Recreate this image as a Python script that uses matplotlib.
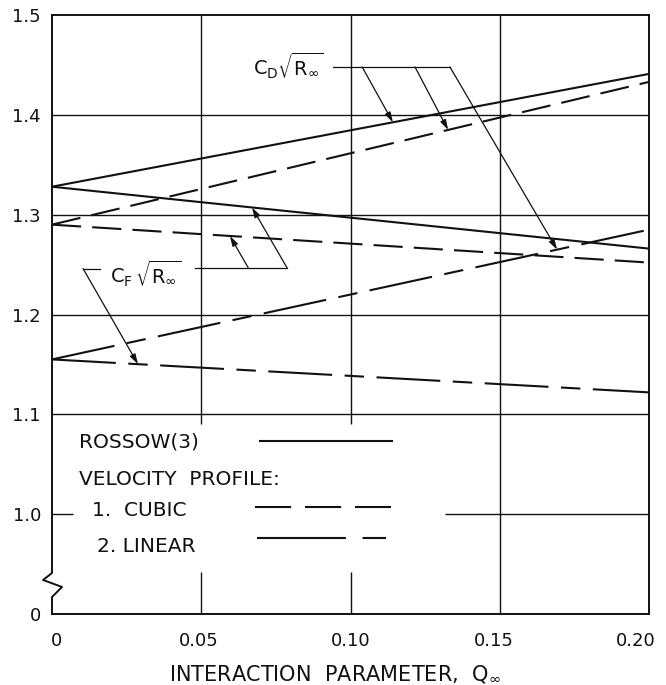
import numpy as np
import matplotlib
matplotlib.use('Agg')
import matplotlib.pyplot as plt
import matplotlib.transforms as mtransforms

plt.rcParams['font.family'] = ['DejaVu Sans']
plt.rcParams['mathtext.default'] = 'regular'
plt.rcParams['lines.scale_dashes'] = False

# ---- data ----
Q = [0.0, 0.20]
rossow_cd = [1.328, 1.441]
rossow_cf = [1.328, 1.266]
cubic_cd = [1.290, 1.433]
cubic_cf = [1.290, 1.252]
linear_cd = [1.155, 1.285]
linear_cf = [1.155, 1.122]

x_ticks = [0.0, 0.05, 0.10, 0.15, 0.20]
x_ticklabels = ['0', '0.05', '0.10', '0.15', '0.20']
y_ticks = [0.90, 1.0, 1.1, 1.2, 1.3, 1.4, 1.5]
y_ticklabels = ['0', '1.0', '1.1', '1.2', '1.3', '1.4', '1.5']

legend_labels = ['ROSSOW(3)', 'VELOCITY  PROFILE:', '1.  CUBIC', '2. LINEAR']
xlabel = 'INTERACTION  PARAMETER,  Q$_{\\infty}$'
cd_label = '$C_D\\sqrt{R_{\\infty}}$'
cf_label = '$C_F\\,\\sqrt{R_{\\infty}}$'

# ---- styles ----
K = '#111111'
LW = 1.5
CUBIC_DASH = (0, (21, 8))
LINEAR_DASH = (0, (46, 9, 14, 9))

fig = plt.figure(figsize=(6.66, 6.85), dpi=100)
ax = fig.add_axes([52 / 666, 1 - 614 / 685, 597 / 666, 599 / 685])
ax.set_xlim(Q[0], Q[-1])
ax.set_ylim(y_ticks[0], y_ticks[-1])

# grid (drawn manually because of the legend gap)
grid_kw = dict(color=K, lw=1.0, zorder=1)
for yv in y_ticks[2:-1]:
    ax.hlines(yv, Q[0], Q[-1], **grid_kw)
ax.hlines(y_ticks[1], Q[0], 0.007, **grid_kw)
ax.hlines(y_ticks[1], 0.1317, Q[-1], **grid_kw)
for xv in x_ticks[1:3]:
    ax.vlines(xv, 1.090, y_ticks[-1], **grid_kw)
    ax.vlines(xv, y_ticks[0], 0.942, **grid_kw)
ax.vlines(x_ticks[3], y_ticks[0], y_ticks[-1], **grid_kw)

# data lines
ax.plot(Q, rossow_cd, color=K, lw=LW, zorder=3)
ax.plot(Q, rossow_cf, color=K, lw=LW, zorder=3)
ax.plot(Q, cubic_cd, color=K, lw=LW, ls=CUBIC_DASH, zorder=3)
ax.plot(Q, cubic_cf, color=K, lw=LW, ls=CUBIC_DASH, zorder=3)
ax.plot(Q, linear_cd, color=K, lw=LW, ls=LINEAR_DASH, zorder=3)
ax.plot(Q, linear_cf, color=K, lw=LW, ls=LINEAR_DASH, zorder=3)

# annotations
arrow_kw = dict(arrowstyle='-|>,head_length=0.6,head_width=0.18', color=K, lw=0.9,
                shrinkA=0, shrinkB=0)

def on(series, x):
    return float(np.interp(x, Q, series))

ax.text(0.0673, 1.449, cd_label, fontsize=14, ha='left', va='center', color=K)
ax.plot([0.0941, 0.1333], [1.448, 1.448], color=K, lw=0.9)
for xs, series, xe in [(0.1039, rossow_cd, 0.1142), (0.1216, cubic_cd, 0.1327),
                       (0.1333, linear_cd, 0.1692)]:
    ax.annotate('', xy=(xe, on(series, xe)), xytext=(xs, 1.448), arrowprops=arrow_kw)

ax.text(0.0194, 1.241, cf_label, fontsize=14, ha='left', va='center', color=K)
ax.plot([0.0104, 0.0161], [1.246, 1.246], color=K, lw=0.9)
ax.annotate('', xy=(0.0288, on(linear_cf, 0.0288)), xytext=(0.0104, 1.246), arrowprops=arrow_kw)
ax.plot([0.0479, 0.0787], [1.247, 1.247], color=K, lw=0.9)
ax.annotate('', xy=(0.0596, on(cubic_cf, 0.0596)), xytext=(0.0657, 1.247), arrowprops=arrow_kw)
ax.annotate('', xy=(0.0670, on(rossow_cf, 0.0670)), xytext=(0.0787, 1.247), arrowprops=arrow_kw)

# legend block (axes coordinates)
tfs = 14.5
ax.text(0.045, 0.287, legend_labels[0], transform=ax.transAxes, fontsize=tfs, va='center', color=K)
ax.text(0.045, 0.225, legend_labels[1], transform=ax.transAxes, fontsize=tfs, va='center', color=K)
ax.text(0.067, 0.172, legend_labels[2], transform=ax.transAxes, fontsize=tfs, va='center', color=K)
ax.text(0.075, 0.1135, legend_labels[3], transform=ax.transAxes, fontsize=tfs, va='center', color=K)
ax.plot([0.348, 0.570], [0.289, 0.289], transform=ax.transAxes, color=K, lw=LW)
ax.plot([0.340, 0.568], [0.179, 0.179], transform=ax.transAxes, color=K, lw=LW, ls=(0, (26, 10)))
ax.plot([0.343, 0.559], [0.127, 0.127], transform=ax.transAxes, color=K, lw=LW, ls=(0, (64, 12, 17, 12)))

# spines: left one with a break squiggle
for s in ['top', 'right', 'bottom']:
    ax.spines[s].set_linewidth(1.4)
    ax.spines[s].set_color(K)
ax.spines['left'].set_visible(False)
ax.plot([0, 0, -0.015, 0.0168, 0, 0], [1.0, 0.0684, 0.0568, 0.0451, 0.0284, 0.0],
        transform=ax.transAxes, color=K, lw=1.4, clip_on=False, zorder=5)

# ticks & labels
ax.set_xticks(x_ticks)
ax.set_xticklabels(x_ticklabels)
ax.set_yticks(y_ticks)
ax.set_yticklabels(y_ticklabels)
ax.tick_params(axis='both', length=0, labelsize=13, colors=K)
ax.tick_params(axis='x', pad=13)
ax.tick_params(axis='y', pad=8)
x_shifts = [4, -2, 0, -6, -13]
for lab, dx in zip(ax.get_xticklabels(), x_shifts):
    lab.set_transform(lab.get_transform() + mtransforms.ScaledTranslation(dx / 100, 0, fig.dpi_scale_trans))
ax.set_xlabel(xlabel, fontsize=15, color=K)
ax.xaxis.set_label_coords(0.474, -0.082)
ax.xaxis.label.set_va('top')

fig.savefig('out.png', dpi=100)
